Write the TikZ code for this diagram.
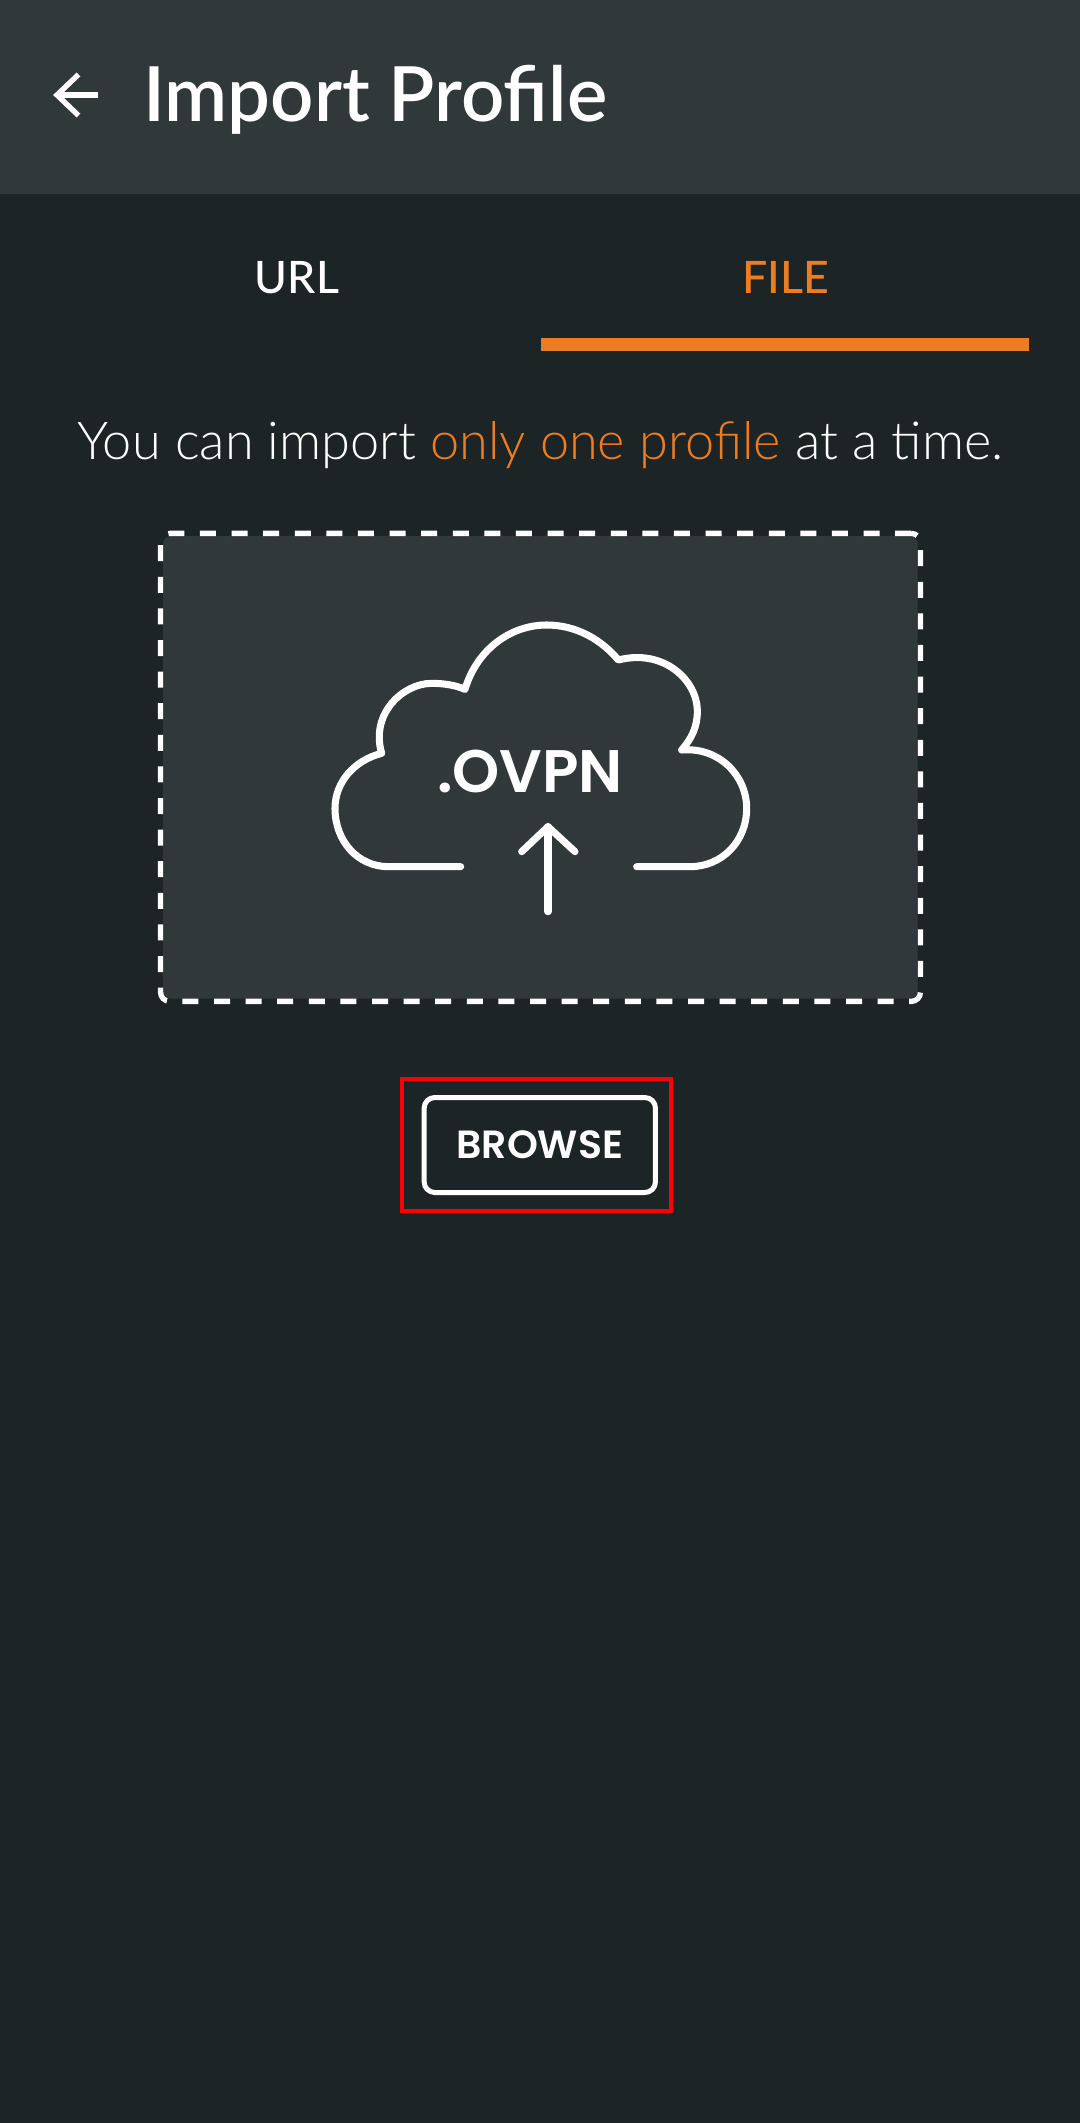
\documentclass[tikz,border=0pt]{standalone}
\usepackage{fontspec}
\setmainfont{Lato Medium}
\newfontfamily\lightfont{Lato Light}
\newfontfamily\titlefont{Lato Semibold}
\newfontfamily\popfont{Poppins SemiBold}
\definecolor{page_bg}{HTML}{1D2426}
\definecolor{panel_bg}{HTML}{31383A}
\definecolor{accent}{HTML}{EE7D21}
\tikzstyle{title_text} = [anchor=base west, inner sep=0pt, text=white, font=\titlefont\fontsize{57}{62}\selectfont]
\tikzstyle{tab_text} = [anchor=base, inner sep=0pt, font=\fontsize{33.5}{36}\selectfont]
\tikzstyle{hint_text} = [anchor=base, inner sep=0pt, text=white, font=\lightfont\fontsize{39.2}{42}\selectfont]
\tikzstyle{frame_fill} = [rectangle, rounded corners=6pt, fill=panel_bg, minimum width=566pt, minimum height=347pt, inner sep=0pt]
\tikzstyle{frame_dash} = [rectangle, rounded corners=7pt, draw=white, line width=4pt, dash pattern=on 12pt off 11.7pt, minimum width=570pt, minimum height=351pt, inner sep=0pt]
\tikzstyle{browse_btn} = [rectangle, rounded corners=8pt, draw=white, line width=3.75pt, text=white, minimum width=173.5pt, minimum height=71.25pt, inner sep=0pt, font=\popfont\fontsize{29.5}{32}\selectfont]
\tikzstyle{mark_box} = [rectangle, draw=red, line width=2.5pt, minimum width=201.75pt, minimum height=99.2pt, inner sep=0pt]
\tikzstyle{icon_line} = [draw=white, line width=5.3pt, line cap=round, line join=round]
\tikzstyle{back_line} = [draw=white, line width=4pt]
\begin{document}
\begin{tikzpicture}[x=0.75pt, y=-0.75pt]
        \useasboundingbox (0,0) rectangle (1080,2123);
        \fill[page_bg] (0,0) rectangle (1080,2123);
        \fill[panel_bg] (0,0) rectangle (1080,194);

        \draw[back_line] (78.5,74.5) -- (57,95) -- (78.5,115.5);
        \draw[back_line] (57,95) -- (98,95);
        \node(title) [title_text] at (143,121) {Import Profile};

        \node(tab_url) [tab_text, text=white] at (297,293) {URL};
        \node(tab_file) [tab_text, text=accent] at (785.5,293) {FILE};
        \fill[accent] (541,338) rectangle (1029,351);

        \node(hint) [hint_text] at (540.5,459) {You can import \textcolor{accent}{only one profile} at a time.};

        \node(frame_bg) [frame_fill] at (540.3,767.3) {};
        \node(frame) [frame_dash] at (540.5,767.4) {};

        \begin{scope}[shift={(225pt,-442.5pt)}, x=0.25pt, y=-0.25pt]
                \draw[icon_line] (482,830) -- (265,830)
                        .. controls (175,830) and (105,755) .. (105,655)
                        .. controls (105,575) and (165,510) .. (245,490)
                        .. controls (210,370) and (310,280) .. (395,280)
                        .. controls (430,280) and (465,285) .. (495,298)
                        .. controls (530,180) and (630,105) .. (740,105)
                        .. controls (830,105) and (905,150) .. (955,210)
                        .. controls (1090,175) and (1190,270) .. (1192,360)
                        .. controls (1193,410) and (1175,445) .. (1145,480)
                        .. controls (1255,470) and (1340,555) .. (1340,655)
                        .. controls (1340,755) and (1265,830) .. (1170,830)
                        -- (1010,830);
                \draw[icon_line] (744,710) -- (744,965);
                \draw[icon_line] (665,785) -- (744,710) -- (825,785);
                \node(ovpn) [anchor=base, inner sep=0pt, text=white, font=\popfont\fontsize{45}{50}\selectfont] at (690,608) {.OVPN};
        \end{scope}

        \node(browse) [browse_btn] at (539.8,1145) {BROWSE};
        \node(mark) [mark_box] at (536.5,1145) {};
\end{tikzpicture}
\end{document}
